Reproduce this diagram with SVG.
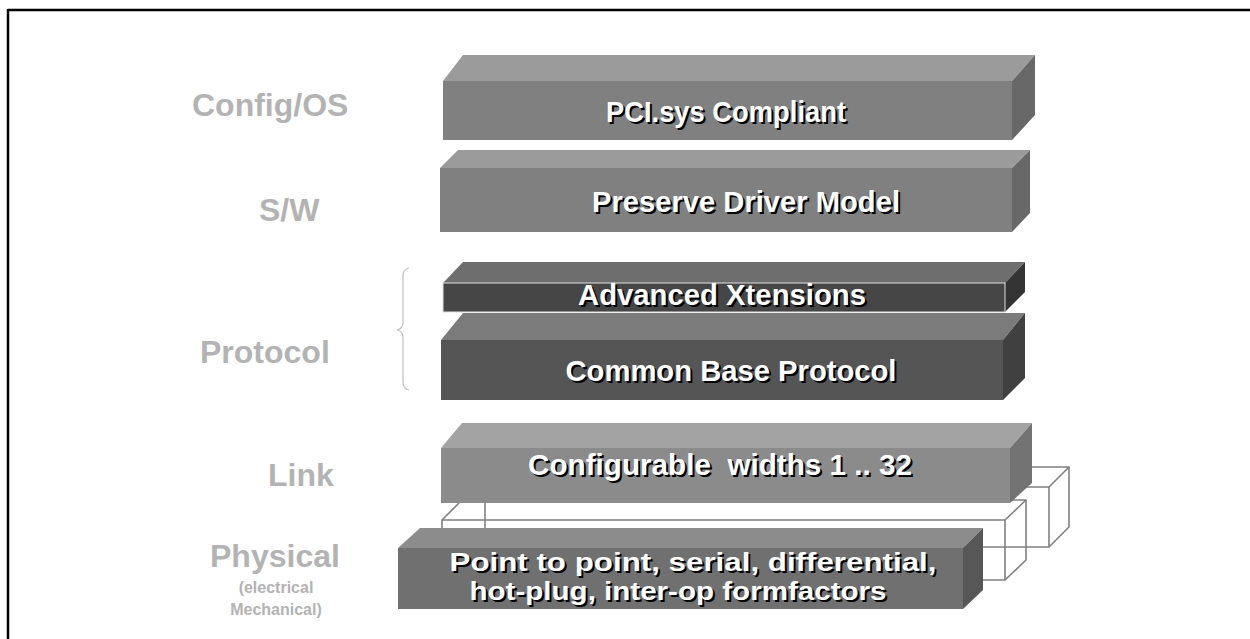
<svg xmlns="http://www.w3.org/2000/svg" width="1250" height="639" viewBox="0 0 1250 639">
<style>
.lbl{font-family:"Liberation Sans",Arial,sans-serif;font-weight:bold;fill:#b3b3b3;}
.bt{font-family:"Liberation Sans",Arial,sans-serif;font-weight:bold;font-size:30px;fill:#ffffff;text-anchor:middle;}
.sh{font-family:"Liberation Sans",Arial,sans-serif;font-weight:bold;font-size:30px;fill:#000000;text-anchor:middle;}
.p2{font-size:25px;}
.wire{fill:none;stroke:#808080;stroke-width:1.6;stroke-linejoin:round;}
</style>
<rect x="0" y="0" width="1250" height="639" fill="#ffffff"/>
<g id="frame">
<line x1="8" y1="10" x2="1250" y2="10" stroke="#000" stroke-width="2.5"/>
<line x1="8" y1="9" x2="8" y2="639" stroke="#000" stroke-width="2.5"/>
</g>
<g id="labels">
<text class="lbl" x="192" y="116" font-size="32">Config/OS</text>
<text class="lbl" x="259" y="221" font-size="32">S/W</text>
<text class="lbl" x="200" y="363" font-size="32">Protocol</text>
<text class="lbl" x="268" y="486" font-size="32">Link</text>
<text class="lbl" x="210" y="567" font-size="32">Physical</text>
<text class="lbl" x="276" y="593" font-size="16" text-anchor="middle">(electrical</text>
<text class="lbl" x="276" y="615" font-size="16" text-anchor="middle">Mechanical)</text>
</g>
<g id="brace">
<path d="M409,268 Q403,269 403,276 L403,322 Q403,329 397,330 Q403,331 403,338 L403,382 Q403,389 409,390" fill="none" stroke="#c0c0c0" stroke-width="1.2"/>
</g>
<g id="box-pci">
<polygon points="443,81 463,55 1035,55 1012,81" fill="#9b9b9b"/>
<polygon points="1012,81 1035,55 1035,115 1012,140" fill="#686868"/>
<rect x="443" y="81" width="569" height="59" fill="#808080"/>
<text class="sh" x="728" y="124" textLength="240" lengthAdjust="spacingAndGlyphs">PCI.sys Compliant</text>
<text class="bt" x="726" y="122" textLength="240" lengthAdjust="spacingAndGlyphs">PCI.sys Compliant</text>
</g>
<g id="box-sw">
<polygon points="440,168 458,150 1030,150 1012,168" fill="#9b9b9b"/>
<polygon points="1012,168 1030,150 1030,213 1012,232" fill="#686868"/>
<rect x="440" y="168" width="572" height="64" fill="#808080"/>
<text class="sh" x="748" y="214" textLength="308" lengthAdjust="spacingAndGlyphs">Preserve Driver Model</text>
<text class="bt" x="746" y="212" textLength="308" lengthAdjust="spacingAndGlyphs">Preserve Driver Model</text>
</g>
<g id="box-adv">
<polygon points="443,283 463,262 1025,262 1005,283" fill="#6e6e6e"/>
<polygon points="1005,283 1025,262 1025,292 1005,312" fill="#333333"/>
<rect x="443" y="283" width="562" height="29" fill="#464646" stroke="#e0e0e0" stroke-width="1"/>
<text class="sh" x="724" y="307" textLength="288" lengthAdjust="spacingAndGlyphs">Advanced Xtensions</text>
<text class="bt" x="722" y="305" textLength="288" lengthAdjust="spacingAndGlyphs">Advanced Xtensions</text>
</g>
<g id="box-cbp">
<polygon points="441,340 463,313 1025,313 1003,340" fill="#7b7b7b"/>
<polygon points="1003,340 1025,313 1025,378 1003,400" fill="#404040"/>
<rect x="441" y="340" width="562" height="60" fill="#555555"/>
<text class="sh" x="733" y="383" textLength="331" lengthAdjust="spacingAndGlyphs">Common Base Protocol</text>
<text class="bt" x="731" y="381" textLength="331" lengthAdjust="spacingAndGlyphs">Common Base Protocol</text>
</g>
<g id="wire-back">
<polyline class="wire" points="485,547 1049,547 1049,487 485,487 485,547"/>
<polyline class="wire" points="485,487 505,467 1069,467 1049,487"/>
<polyline class="wire" points="1049,547 1069,527 1069,467"/>
</g>
<g id="wire-front">
<rect class="wire" x="442" y="520" width="563" height="60"/>
<polyline class="wire" points="442,520 462,500 1026,500 1005,520"/>
<polyline class="wire" points="1005,580 1026,560 1026,500"/>
</g>
<g id="box-link">
<polygon points="441,448 462,423 1032,423 1010,448" fill="#a3a3a3"/>
<polygon points="1010,448 1032,423 1032,483 1010,503" fill="#737373"/>
<rect x="441" y="448" width="569" height="55" fill="#8b8b8b"/>
<text class="sh" x="722" y="477" textLength="384" lengthAdjust="spacingAndGlyphs" xml:space="preserve">Configurable  widths 1 .. 32</text>
<text class="bt" x="720" y="475" textLength="384" lengthAdjust="spacingAndGlyphs" xml:space="preserve">Configurable  widths 1 .. 32</text>
</g>
<g id="box-phys">
<polygon points="398,548 420,528 983,528 963,548" fill="#8c8c8c"/>
<polygon points="963,548 983,528 983,590 963,609" fill="#575757"/>
<rect x="398" y="548" width="565" height="61" fill="#707070"/>
<text class="sh p2" x="695" y="573" textLength="487" lengthAdjust="spacingAndGlyphs">Point to point, serial, differential,</text>
<text class="bt p2" x="693" y="571" textLength="487" lengthAdjust="spacingAndGlyphs">Point to point, serial, differential,</text>
<text class="sh p2" x="680" y="602" textLength="417" lengthAdjust="spacingAndGlyphs">hot-plug, inter-op formfactors</text>
<text class="bt p2" x="678" y="600" textLength="417" lengthAdjust="spacingAndGlyphs">hot-plug, inter-op formfactors</text>
</g>
</svg>
